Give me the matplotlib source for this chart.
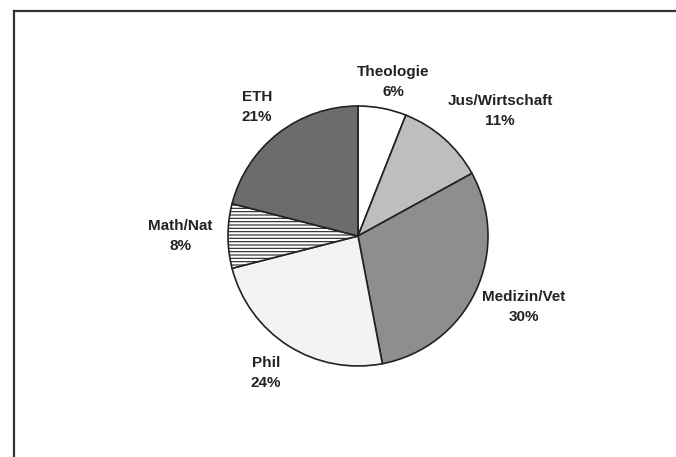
import matplotlib.pyplot as plt
from matplotlib.lines import Line2D

# shares, clockwise from 12 o'clock
faculties = ["Theologie", "Jus/Wirtschaft", "Medizin/Vet", "Phil", "Math/Nat", "ETH"]
shares = [6, 11, 30, 24, 8, 21]

colors = ["#ffffff", "#bebebe", "#8e8e8e", "#f3f3f3", "#ffffff", "#6c6c6c"]
hatches = [None, None, None, None, "-----", None]
# label centres in pixels (x, y from top)
label_pos = [(393, 82), (500, 111), (524, 307), (266, 373), (180, 236), (257, 107)]

W, H = 676, 457
fig = plt.figure(figsize=(W / 100, H / 100), dpi=100)

cx, cy, r = 358, 236, 130
pad = 2
ax = fig.add_axes([(cx - r - pad) / W, 1 - (cy + r + pad) / H,
                   2 * (r + pad) / W, 2 * (r + pad) / H])
plt.rcParams["hatch.color"] = "#777777"
plt.rcParams["hatch.linewidth"] = 0.8
wedges, _ = ax.pie(shares, colors=colors, startangle=90, counterclock=False,
                   radius=1.0, wedgeprops=dict(edgecolor="#222222", linewidth=1.2))
for w, h in zip(wedges, hatches):
    if h:
        w.set_hatch(h)
ax.set_xlim(-1 - pad / r, 1 + pad / r)
ax.set_ylim(-1 - pad / r, 1 + pad / r)
ax.set_aspect("auto")
ax.axis("off")

for name, val, (x, y) in zip(faculties, shares, label_pos):
    fig.text(x / W, 1 - y / H, f"{name}\n{val}%", ha="center", va="center",
             fontsize=11, fontweight="bold", color="#222222",
             family=["Liberation Sans Narrow", "Liberation Sans", "DejaVu Sans"],
             linespacing=1.6)

# frame lines (top and left)
fig.add_artist(Line2D([14 / W, 1], [1 - 11 / H, 1 - 11 / H], color="#333333", lw=1.6))
fig.add_artist(Line2D([14 / W, 14 / W], [0, 1 - 11 / H], color="#333333", lw=1.6))

fig.savefig("out.png", dpi=100)
